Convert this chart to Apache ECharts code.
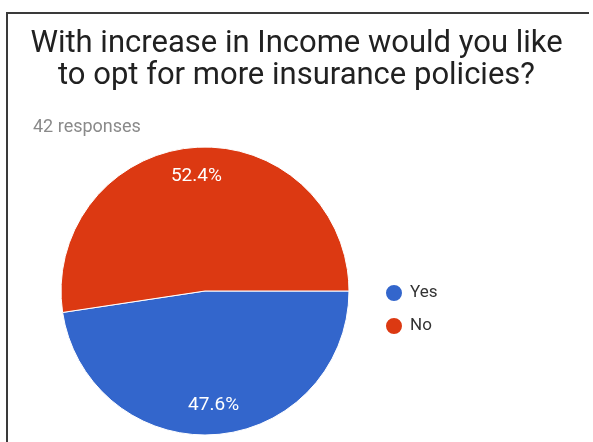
<!DOCTYPE html>
<html>
<head>
<meta charset="utf-8">
<script src="https://cdn.jsdelivr.net/npm/echarts@6/dist/echarts.min.js"></script>
<style>
  html, body { margin: 0; padding: 0; background: #fff; }
  #chart { width: 593px; height: 442px; }
</style>
</head>
<body>
<div id="chart"></div>
<script>
// Survey answers
const answers = ['Yes', 'No'];
const counts = [20, 22];
const answerColors = ['#3366cc', '#dc3912'];
const titleLines = ['With increase in Income would you like', 'to opt for more insurance policies?'];
const responseNote = '42 responses';

const total = counts.reduce((a, b) => a + b, 0);
const pieData = answers.map((name, i) => ({ name, value: counts[i] }));

const chart = echarts.init(document.getElementById('chart'), null, { renderer: 'canvas' });

const center = [205, 291];
const radius = 144;

chart.setOption({
  animation: false,
  backgroundColor: '#fff',
  color: answerColors,
  title: [
    {
      text: titleLines.join('\n'),
      left: 'center',
      top: 23,
      textStyle: {
        fontFamily: 'Roboto',
        fontWeight: 'normal',
        fontSize: 31,
        lineHeight: 32,
        color: '#212121'
      }
    },
    {
      text: responseNote,
      left: 28,
      top: 113,
      textStyle: {
        fontFamily: 'Roboto',
        fontWeight: 'normal',
        fontSize: 18,
        color: '#8a8a8a'
      }
    }
  ],
  legend: {
    orient: 'vertical',
    left: 379,
    top: 278,
    itemGap: 13,
    itemWidth: 18,
    itemHeight: 18,
    icon: 'circle',
    data: answers,
    textStyle: {
      fontFamily: 'Roboto',
      fontSize: 17,
      color: '#333',
      padding: [0, 0, 0, 2]
    }
  },
  graphic: [
    {
      type: 'polyline',
      shape: { points: [[7, 460], [7, 13], [589, 13]] },
      style: { stroke: '#3a3a3a', lineWidth: 2, fill: null },
      silent: true
    }
  ],
  series: [
    {
      type: 'pie',
      center: center,
      radius: [0, radius],
      startAngle: 0,
      clockwise: true,
      label: { show: false },
      labelLine: { show: false },
      itemStyle: { borderColor: '#fff', borderWidth: 1 },
      data: pieData
    },
    {
      // transparent ring that carries the percentage labels further out
      type: 'pie',
      center: center,
      radius: [80, radius],
      startAngle: 0,
      clockwise: true,
      silent: true,
      itemStyle: { color: 'rgba(0,0,0,0)' },
      label: {
        show: true,
        position: 'inside',
        formatter: p => (p.value / total * 100).toFixed(1) + '%',
        fontFamily: 'Roboto',
        fontSize: 19,
        color: '#fff'
      },
      labelLine: { show: false },
      data: pieData
    }
  ]
});
</script>
</body>
</html>
